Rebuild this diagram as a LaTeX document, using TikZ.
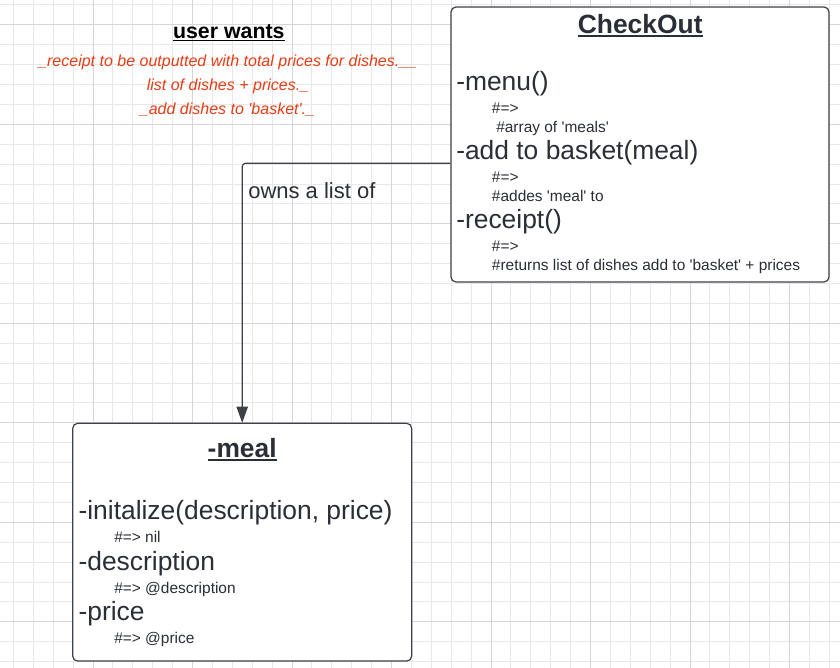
\documentclass[tikz,border=0pt]{standalone}
\usepackage{fontspec}
\setmainfont{Liberation Sans}[Ligatures=TeXOff]
\usetikzlibrary{arrows.meta}
\definecolor{txt}{RGB}{42,46,54}
\definecolor{brd}{RGB}{60,64,72}
\definecolor{redtxt}{RGB}{230,60,20}
\definecolor{gminor}{RGB}{232,232,232}
\definecolor{gmajor}{RGB}{214,214,214}
\newcommand{\myul}[1]{\setbox0\hbox{#1}\rlap{\rule[-0.14em]{\wd0}{0.075em}}\box0}
\tikzset{
  minorline/.style={draw=gminor, line width=0.75pt},
  majorline/.style={draw=gmajor, line width=0.75pt},
  classbox/.style={draw=brd, fill=white, line width=0.9pt, rounded corners=3.75pt, inner sep=0pt},
  title/.style={anchor=base, inner sep=0pt, text=txt, font=\fontsize{19.8}{22}\selectfont\bfseries},
  big/.style={anchor=base west, inner sep=0pt, text=txt, font=\fontsize{19.8}{22}\selectfont},
  small/.style={anchor=base west, inner sep=0pt, text=txt, font=\fontsize{11.6}{14}\selectfont},
  wish/.style={anchor=base, inner sep=0pt, text=redtxt, font=\fontsize{12}{14}\selectfont\itshape},
  heading/.style={anchor=base, inner sep=0pt, text=black, font=\fontsize{16}{18}\selectfont\bfseries},
  lbl/.style={anchor=base west, inner sep=0pt, text=txt, font=\fontsize{16.5}{19}\selectfont},
  conn/.style={draw=brd, line width=0.9pt, rounded corners=2.5pt, -{Triangle[length=12pt,width=8.5pt]}}
}
\begin{document}
\begin{tikzpicture}[x=0.75pt,y=-0.75pt]
\useasboundingbox (0,0) rectangle (840,668);
\fill[white] (0,0) rectangle (840,668);
% grid
\foreach \i in {0,...,41} {
  \pgfmathsetmacro\gx{13.4+19.9*\i}
  \draw[minorline] (\gx,0) -- (\gx,668);
}
\foreach \i in {0,...,33} {
  \pgfmathsetmacro\gy{4.9+19.9*\i}
  \draw[minorline] (0,\gy) -- (840,\gy);
}
\foreach \i in {0,...,7} {
  \pgfmathsetmacro\gx{93+99.5*\i}
  \draw[majorline] (\gx,0) -- (\gx,668);
}
\foreach \i in {0,...,6} {
  \pgfmathsetmacro\gy{24.8+99.5*\i}
  \draw[majorline] (0,\gy) -- (840,\gy);
}

% user wants
\node[heading] (uw) at (228.8,38.3) {\myul{user wants}};
\node[wish] (w1) at (227.7,66.7) {\_receipt to be outputted with total prices for dishes.\_\_};
\node[wish] (w2) at (228,90.7) {list of dishes + prices.\_};
\node[wish] (w3) at (227.5,114.3) {\_add dishes to 'basket'.\_};

% CheckOut box
\node[classbox, minimum width=283.5pt, minimum height=206.25pt] (co) at (640,144.5) {};
\node[title] (cot) at (640.2,33.3) {\myul{CheckOut}};
\node[big] (m1) at (456,90.5) {-menu()};
\node[small] (m1a) at (491.7,113.3) {\#=>};
\node[small] (m1b) at (491.7,132.5) {\ \#array of 'meals'};
\node[big] (m2) at (456,159.3) {-add to basket(meal)};
\node[small] (m2a) at (491.7,182.7) {\#=>};
\node[small] (m2b) at (491.7,201.7) {\#addes 'meal' to};
\node[big] (m3) at (456,228.3) {-receipt()};
\node[small] (m3a) at (491.7,251.7) {\#=>};
\node[small] (m3b) at (491.7,270.7) {\#returns list of dishes add to 'basket' + prices};

% meal box
\node[classbox, minimum width=254.25pt, minimum height=178.3pt] (meal) at (242.2,542.2) {};
\node[title] (mt) at (242.2,457.3) {\myul{-meal}};
\node[big] (a1) at (78.3,519) {-initalize(description, price)};
\node[small] (a1a) at (114,542.7) {\#=> nil};
\node[big] (a2) at (78.3,570) {-description};
\node[small] (a2a) at (114,593.3) {\#=> @description};
\node[big] (a3) at (78.3,620) {-price};
\node[small] (a3a) at (114,643.3) {\#=> @price};

% connector
\draw[conn] ([yshift=-14.1pt]co.west) -| (meal.north);
\node[lbl] (own) at (248,198.3) {owns a list of};
\end{tikzpicture}
\end{document}
